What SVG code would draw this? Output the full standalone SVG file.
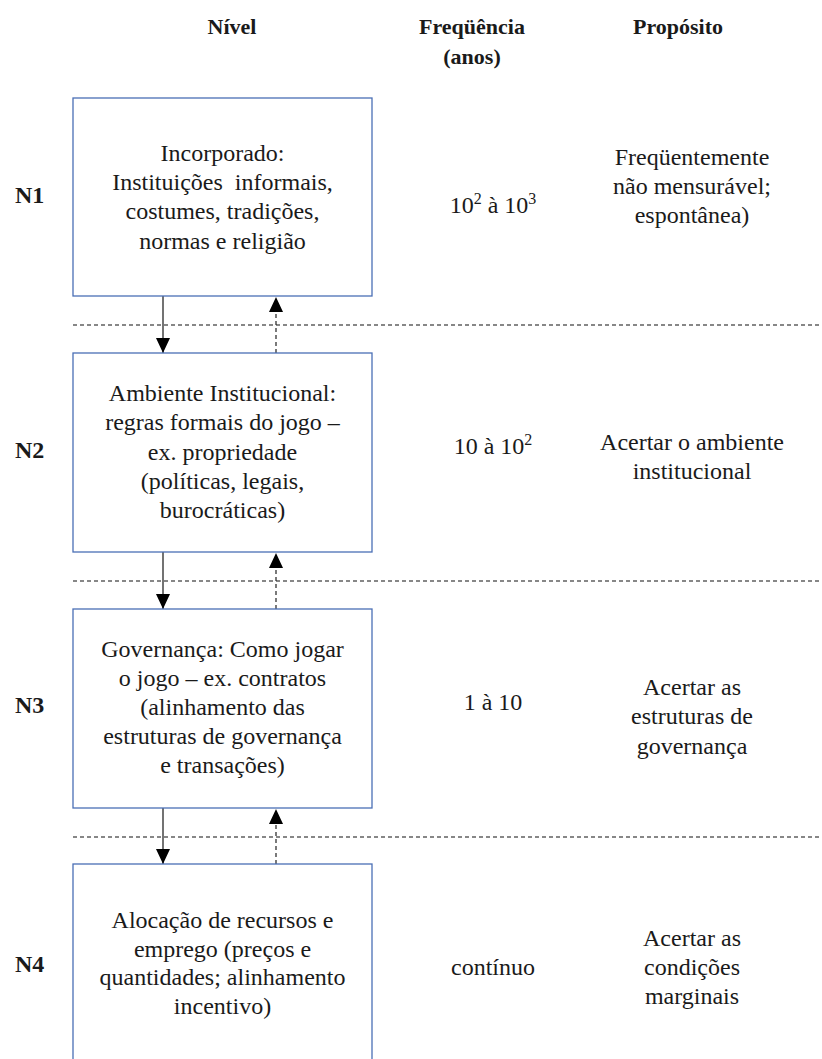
<svg xmlns="http://www.w3.org/2000/svg" width="822" height="1059" viewBox="0 0 822 1059">
  <style>
    text { font-family: 'Liberation Serif', 'DejaVu Serif', serif; fill: #1a1a1a; }
    .body { font-size: 24px; text-anchor: middle; }
    .hdr { font-size: 22px; font-weight: bold; text-anchor: middle; }
    .lvl { font-size: 24px; font-weight: bold; }
    .box { fill: #ffffff; stroke: #4a6fb5; stroke-width: 1.3; }
    .sep { stroke: #111111; stroke-width: 1.2; stroke-dasharray: 4 3; fill: none; }
    .down { stroke: #444444; stroke-width: 1.5; fill: none; }
    .up { stroke: #222222; stroke-width: 1.2; stroke-dasharray: 4 3; fill: none; }
  </style>
  <defs>
    <marker id="head" markerUnits="userSpaceOnUse" viewBox="0 0 15 14" markerWidth="15" markerHeight="14" refX="15" refY="7" orient="auto">
      <path d="M0,0 L15,7 L0,14 Z" fill="#000000"/>
    </marker>
  </defs>

  <rect width="822" height="1059" fill="#ffffff"/>

  <g font-family="Liberation Serif, serif">
  <!-- column headers -->
  <g id="headers">
    <text class="hdr" x="232" y="34">Nível</text>
    <text class="hdr" x="472" y="34">Freqüência</text>
    <text class="hdr" x="472" y="64">(anos)</text>
    <text class="hdr" x="678" y="34">Propósito</text>
  </g>

  <!-- level separators and links between levels -->
  <g id="connectors">
    <line class="sep" x1="73" y1="325" x2="822" y2="325"/>
    <line class="sep" x1="73" y1="581" x2="822" y2="581"/>
    <line class="sep" x1="73" y1="837" x2="822" y2="837"/>

    <line class="down" x1="163" y1="296" x2="163" y2="353" marker-end="url(#head)"/>
    <line class="up" x1="276" y1="353" x2="276" y2="297" marker-end="url(#head)"/>
    <line class="down" x1="163" y1="552" x2="163" y2="609" marker-end="url(#head)"/>
    <line class="up" x1="276" y1="609" x2="276" y2="553" marker-end="url(#head)"/>
    <line class="down" x1="163" y1="808" x2="163" y2="864" marker-end="url(#head)"/>
    <line class="up" x1="276" y1="864" x2="276" y2="809" marker-end="url(#head)"/>
  </g>

  <!-- N1 -->
  <g id="n1">
    <text class="lvl" x="15" y="203">N1</text>
    <rect class="box" x="73" y="98" width="299" height="198"/>
    <text class="body" x="222.5" y="161">Incorporado:</text>
    <text class="body" x="222.5" y="190" style="white-space:pre">Instituições  informais,</text>
    <text class="body" x="222.5" y="219">costumes, tradições,</text>
    <text class="body" x="222.5" y="249">normas e religião</text>
    <text class="body" x="493" y="213">10<tspan font-size="16" dy="-9">2</tspan><tspan dy="9"> à 10</tspan><tspan font-size="16" dy="-9">3</tspan></text>
    <text class="body" x="692" y="165">Freqüentemente</text>
    <text class="body" x="692" y="194">não mensurável;</text>
    <text class="body" x="692" y="223">espontânea)</text>
  </g>

  <!-- N2 -->
  <g id="n2">
    <text class="lvl" x="15" y="458">N2</text>
    <rect class="box" x="73" y="353" width="299" height="199"/>
    <text class="body" x="222.5" y="401">Ambiente Institucional:</text>
    <text class="body" x="222.5" y="430">regras formais do jogo –</text>
    <text class="body" x="222.5" y="460">ex. propriedade</text>
    <text class="body" x="222.5" y="489">(políticas, legais,</text>
    <text class="body" x="222.5" y="518">burocráticas)</text>
    <text class="body" x="493" y="454">10 à 10<tspan font-size="16" dy="-9">2</tspan></text>
    <text class="body" x="692" y="450">Acertar o ambiente</text>
    <text class="body" x="692" y="479">institucional</text>
  </g>

  <!-- N3 -->
  <g id="n3">
    <text class="lvl" x="15" y="713">N3</text>
    <rect class="box" x="73" y="609" width="299" height="199"/>
    <text class="body" x="222.5" y="657">Governança: Como jogar</text>
    <text class="body" x="222.5" y="686">o jogo – ex. contratos</text>
    <text class="body" x="222.5" y="715">(alinhamento das</text>
    <text class="body" x="222.5" y="744">estruturas de governança</text>
    <text class="body" x="222.5" y="773">e transações)</text>
    <text class="body" x="493" y="710">1 à 10</text>
    <text class="body" x="692" y="695">Acertar as</text>
    <text class="body" x="692" y="724">estruturas de</text>
    <text class="body" x="692" y="754">governança</text>
  </g>

  <!-- N4 -->
  <g id="n4">
    <text class="lvl" x="15" y="972">N4</text>
    <rect class="box" x="73" y="864" width="299" height="198"/>
    <text class="body" x="222.5" y="928">Alocação de recursos e</text>
    <text class="body" x="222.5" y="957">emprego (preços e</text>
    <text class="body" x="222.5" y="985">quantidades; alinhamento</text>
    <text class="body" x="222.5" y="1014">incentivo)</text>
    <text class="body" x="493" y="975">contínuo</text>
    <text class="body" x="692" y="946">Acertar as</text>
    <text class="body" x="692" y="975">condições</text>
    <text class="body" x="692" y="1004">marginais</text>
  </g>
  </g>
</svg>
